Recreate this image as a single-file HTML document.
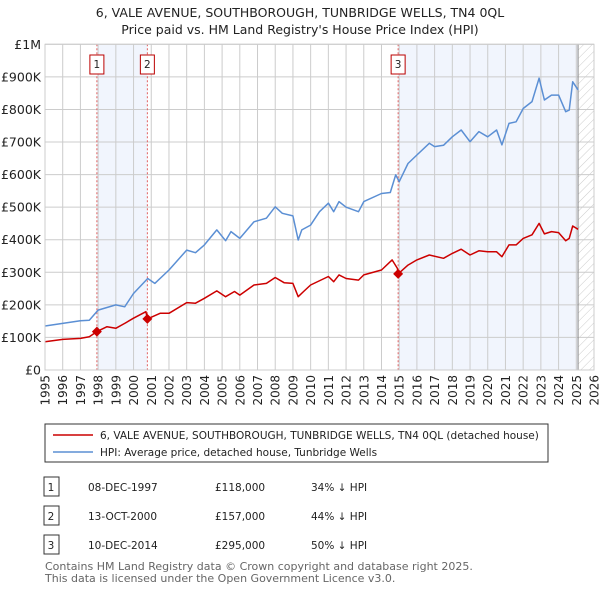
<!DOCTYPE html>
<html><head><meta charset="utf-8"><style>
body{margin:0;background:#fff;font-family:"Liberation Sans","DejaVu Sans",sans-serif;}
svg text{font-family:"DejaVu Sans","Liberation Sans",sans-serif;}
</style></head><body>
<svg id="c" width="600" height="590" xmlns="http://www.w3.org/2000/svg">
<defs><pattern id="hatch" width="6" height="6" patternUnits="userSpaceOnUse" patternTransform="rotate(45)"><line x1="0" y1="0" x2="0" y2="6" stroke="#ccc" stroke-width="1"/></pattern></defs>
<text x="300" y="17" text-anchor="middle" font-size="12.5" fill="#222">6, VALE AVENUE, SOUTHBOROUGH, TUNBRIDGE WELLS, TN4 0QL</text>
<text x="300" y="34" text-anchor="middle" font-size="12.5" fill="#222">Price paid vs. HM Land Registry's House Price Index (HPI)</text>
<g id="plot"></g>
<g>
<rect x="45" y="424" width="503" height="38" fill="#fff" stroke="#333" stroke-width="1"/>
<line x1="53" y1="435" x2="93" y2="435" stroke="#cc0000" stroke-width="1.5"/>
<text x="100" y="439" font-size="10.5" fill="#222">6, VALE AVENUE, SOUTHBOROUGH, TUNBRIDGE WELLS, TN4 0QL (detached house)</text>
<line x1="53" y1="452" x2="93" y2="452" stroke="#5b8fd4" stroke-width="1.5"/>
<text x="100" y="456" font-size="10.5" fill="#222">HPI: Average price, detached house, Tunbridge Wells</text>
</g>
<g id="table" font-size="10.5" fill="#222"></g>
<text x="45" y="570" font-size="11" fill="#666">Contains HM Land Registry data © Crown copyright and database right 2025.</text>
<text x="45" y="582" font-size="11" fill="#666">This data is licensed under the Open Government Licence v3.0.</text>
</svg>
<script>
const hpiYears=[1995,1996,1997,1997.5,1998,1999,1999.5,2000,2000.8,2001.2,2002,2003,2003.5,2004,2004.7,2005.2,2005.5,2006,2006.8,2007.5,2008,2008.4,2009,2009.3,2009.5,2010,2010.5,2011,2011.3,2011.6,2012,2012.7,2013,2014,2014.5,2014.8,2015,2015.5,2016,2016.7,2017,2017.5,2018,2018.5,2019,2019.5,2020,2020.5,2020.8,2021.2,2021.6,2022,2022.5,2022.9,2023.2,2023.6,2024,2024.4,2024.6,2024.8,2025.1];
const hpiValues=[135,143,151,153,184,200,194,235,281,266,307,368,360,384,430,397,425,404,455,466,501,481,473,399,430,445,486,512,486,517,500,486,517,542,545,599,578,634,660,696,686,690,716,737,701,732,716,737,691,757,762,803,824,896,829,844,844,793,798,885,860];
const paidYears=[1995,1996,1997,1997.5,1997.93,1998.5,1999,1999.5,2000,2000.7,2000.78,2001.5,2002,2003,2003.5,2004,2004.7,2005.2,2005.7,2006,2006.8,2007.5,2008,2008.5,2009,2009.3,2009.6,2010,2011,2011.3,2011.6,2012,2012.7,2013,2014,2014.6,2014.9,2014.94,2015.5,2016,2016.7,2017.5,2018,2018.5,2019,2019.5,2020,2020.5,2020.8,2021.2,2021.6,2022,2022.5,2022.9,2023.2,2023.6,2024,2024.4,2024.6,2024.8,2025.1];
const paidValues=[87,94,97,102,118,133,128,143,159,179,157,174,174,207,205,220,243,225,241,230,261,266,284,268,266,225,241,261,287,271,292,281,276,292,307,338,312,295,322,338,353,343,358,371,353,366,363,363,348,384,384,404,415,450,418,425,422,397,404,442,432];
const saleLabels=["1","2","3"];
const saleYears=[1997.93,2000.78,2014.94];
const saleValues=[118,157,295];
const saleDates=["08-DEC-1997","13-OCT-2000","10-DEC-2014"];
const salePrices=["£118,000","£157,000","£295,000"];
const saleDiffs=["34% ↓ HPI","44% ↓ HPI","50% ↓ HPI"];
const yTicks=[0,100,200,300,400,500,600,700,800,900,1000];
const yTickLabels=["£0","£100K","£200K","£300K","£400K","£500K","£600K","£700K","£800K","£900K","£1M"];
const xTicks=[1995,1996,1997,1998,1999,2000,2001,2002,2003,2004,2005,2006,2007,2008,2009,2010,2011,2012,2013,2014,2015,2016,2017,2018,2019,2020,2021,2022,2023,2024,2025,2026];
const dataEnd=2025.1;

const NS="http://www.w3.org/2000/svg";
const X0=45,X1=594,Y0=370,Y1=44.3;
const xs=y=>X0+(y-1995)/(2026-1995)*(X1-X0);
const ys=v=>Y0-v/1000*(Y0-Y1);
const plot=document.getElementById('plot');
function mk(t,a,p){const e=document.createElementNS(NS,t);for(const k in a)e.setAttribute(k,a[k]);(p||plot).appendChild(e);return e;}

let bg=mk('rect',{x:X0,y:Y1,width:X1-X0,height:Y0-Y1,fill:'#fff'});


let s1=mk('rect',{x:xs(saleYears[0]),y:Y1,width:xs(saleYears[1])-xs(saleYears[0]),height:Y0-Y1,fill:'#eef3fc',opacity:0.8});


let s2=mk('rect',{x:xs(saleYears[2]),y:Y1,width:xs(dataEnd)-xs(saleYears[2]),height:Y0-Y1,fill:'#eef3fc',opacity:0.8});


let ht=mk('rect',{x:xs(dataEnd),y:Y1,width:X1-xs(dataEnd),height:Y0-Y1,fill:'url(#hatch)'});



yTicks.forEach((v,i)=>{
 let l=mk('line',{x1:X0,x2:X1,y1:ys(v),y2:ys(v),stroke:'#ccc','stroke-width':1});
 
 
 let t=mk('text',{x:X0-4,y:ys(v)+4.5,'text-anchor':'end','font-size':12.5,fill:'#222'});
 t.textContent=yTickLabels[i];
 
 
});
xTicks.forEach(y=>{
 let l=mk('line',{x1:xs(y),x2:xs(y),y1:Y1,y2:Y0,stroke:'#ccc','stroke-width':1});
 
 
 const tx=xs(y)+4.5,ty=375;
 let t=mk('text',{x:tx,y:ty,'text-anchor':'end','font-size':12,fill:'#222',transform:`rotate(-90 ${tx} ${ty})`});
 t.textContent=y;
 
 
});
let el=mk('line',{x1:xs(dataEnd),x2:xs(dataEnd),y1:Y1,y2:Y0,stroke:'#888','stroke-width':1});



saleYears.forEach((y,i)=>{
 let l=mk('line',{x1:xs(y),x2:xs(y),y1:Y1,y2:Y0,stroke:'#e06060','stroke-width':1,'stroke-dasharray':'2,2'});
 
 
 let b=mk('rect',{x:xs(y)-7,y:55,width:14,height:19,fill:'#fff',stroke:'#b00','stroke-width':1});
 
 
 let t=mk('text',{x:xs(y),y:68,'text-anchor':'middle','font-size':10.5,fill:'#222'});
 t.textContent=saleLabels[i];
 
 
});
const pts=(a,b)=>a.map((y,i)=>xs(y).toFixed(1)+','+ys(b[i]).toFixed(1)).join(' ');
let hp=mk('polyline',{points:pts(hpiYears,hpiValues),fill:'none',stroke:'#5b8fd4','stroke-width':1.5,'stroke-linejoin':'round'});


let pp=mk('polyline',{points:pts(paidYears,paidValues),fill:'none',stroke:'#cc0000','stroke-width':1.5,'stroke-linejoin':'round'});


saleYears.forEach((y,i)=>{
 const cx=xs(y),cy=ys(saleValues[i]);
 let d=mk('polygon',{points:`${cx},${cy-5} ${cx+5},${cy} ${cx},${cy+5} ${cx-5},${cy}`,fill:'#cc0000'});
 
 
});
let fr=mk('rect',{x:X0,y:Y1,width:X1-X0,height:Y0-Y1,fill:'none',stroke:'#ccc','stroke-width':1});



const tb=document.getElementById('table');
saleLabels.forEach((s,i)=>{
 const y=487+i*29;
 let b=mk('rect',{x:44,y:y-10,width:15,height:19,fill:'#fff',stroke:'#333','stroke-width':1},tb);
 
 
 const cells=[[s,51,'middle'],[saleDates[i],88,'start'],[salePrices[i],215,'start'],[saleDiffs[i],311,'start']];
 cells.forEach(c=>{
  let t=mk('text',{x:c[1],y:y+4,'text-anchor':c[2]},tb);
  t.textContent=c[0];
  
  
 });
});
</script>
</body></html>
